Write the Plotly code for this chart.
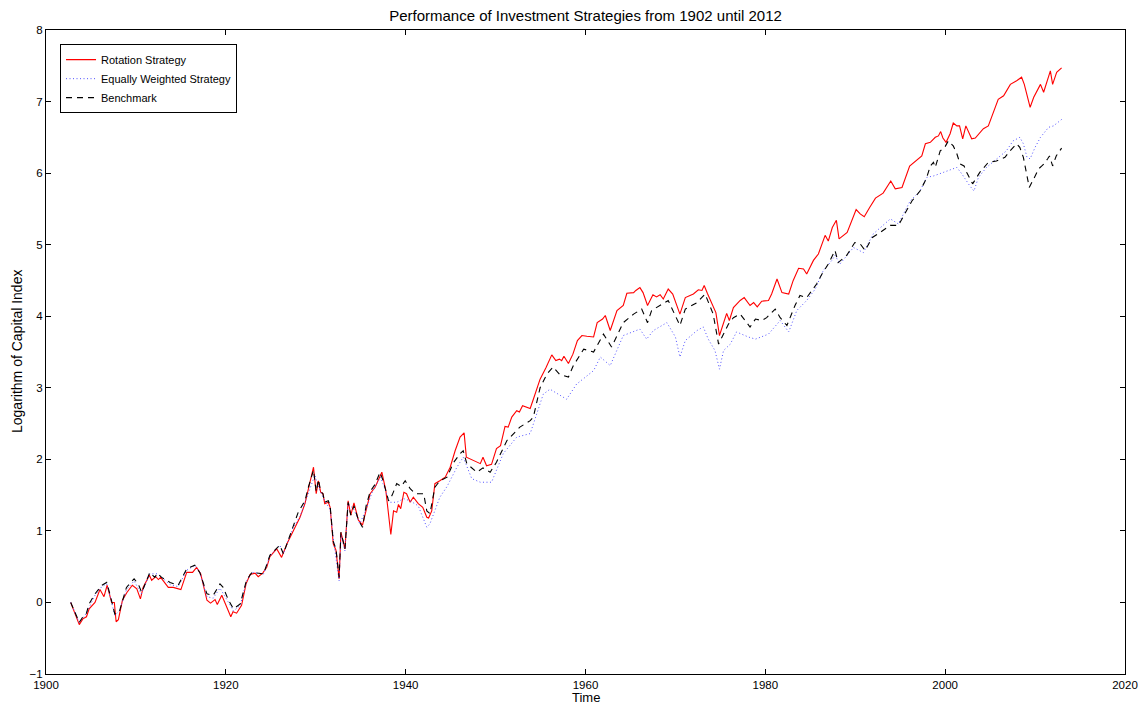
import plotly.graph_objects as go

# ---------------- data ----------------
rot_years = [1902.75, 1903.7, 1904.1, 1904.5, 1904.8, 1905.45, 1906.0, 1906.45, 1906.8, 1907.3, 1907.6, 1907.8,
             1908.05, 1908.5, 1909.0, 1909.6, 1910.1, 1910.5, 1910.8, 1911.5, 1911.75, 1912.2, 1912.5, 1912.75,
             1913.6, 1914.15, 1915.0, 1915.65, 1916.3, 1916.75, 1917.2, 1917.9, 1918.3, 1918.8, 1919.05, 1919.55,
             1920.55, 1920.8, 1921.2, 1921.75, 1922.25, 1922.7, 1923.25, 1923.6, 1924.1, 1924.55, 1924.9, 1925.65,
             1926.2, 1926.8, 1927.7, 1928.25, 1928.8, 1929.2, 1929.75, 1930.05, 1930.3, 1930.55, 1930.8, 1931.0,
             1931.4, 1931.6, 1931.95, 1932.25, 1932.6, 1932.8, 1933.25, 1933.6, 1933.9, 1934.25, 1934.75, 1935.2,
             1935.6, 1936.05, 1936.6, 1937.15, 1937.35, 1937.8, 1938.35, 1938.65, 1939.0, 1939.2, 1939.45, 1939.8,
             1940.1, 1940.5, 1940.85, 1941.4, 1941.9, 1942.35, 1942.55, 1942.9, 1943.25, 1943.8, 1944.4, 1944.95,
             1945.5, 1946.05, 1946.5, 1946.75, 1947.55, 1948.3, 1948.6, 1949.0, 1949.55, 1950.1, 1950.55, 1951.05,
             1951.4, 1951.8, 1952.35, 1952.65, 1953.0, 1953.85, 1954.2, 1954.95, 1955.6, 1956.25, 1956.7, 1957.1,
             1957.35, 1957.6, 1958.1, 1958.6, 1959.1, 1959.6, 1960.15, 1960.9, 1961.3, 1961.9, 1962.2, 1962.75,
             1963.5, 1964.2, 1964.6, 1965.35, 1965.6, 1966.05, 1966.4, 1966.9, 1967.5, 1967.9, 1968.3, 1968.65,
             1969.2, 1969.7, 1970.5, 1971.1, 1972.0, 1972.55, 1972.95, 1973.2, 1973.55, 1974.2, 1974.5, 1974.9,
             1975.3, 1975.7, 1976.0, 1976.45, 1977.2, 1977.65, 1978.3, 1978.7, 1979.1, 1979.6, 1980.35, 1980.7,
             1981.3, 1981.85, 1982.6, 1983.1, 1983.7, 1984.25, 1984.6, 1985.35, 1985.9, 1986.65, 1987.0, 1987.45,
             1987.9, 1988.2, 1989.1, 1990.1, 1990.55, 1991.0, 1991.6, 1992.25, 1993.1, 1993.95, 1994.45, 1995.2,
             1996.05, 1996.7, 1997.4, 1997.8, 1998.35, 1998.9, 1999.25, 1999.5, 1999.75, 2000.1, 2000.55, 2000.9,
             2001.3, 2001.6, 2001.95, 2002.3, 2002.7, 2002.95, 2003.35, 2004.25, 2004.8, 2005.35, 2005.9, 2006.5,
             2007.25, 2007.95, 2008.5, 2008.8, 2009.45, 2009.85, 2010.6, 2010.95, 2011.7, 2011.95, 2012.4, 2012.95]
rot_values = [0.00, -0.31, -0.23, -0.20, -0.09, 0.00, 0.18, 0.08, 0.24, 0.00, 0.00, -0.27,
              -0.24, 0.03, 0.14, 0.24, 0.19, 0.05, 0.21, 0.38, 0.31, 0.36, 0.32, 0.35,
              0.21, 0.21, 0.18, 0.42, 0.42, 0.49, 0.40, 0.03, -0.01, 0.04, -0.03, 0.10,
              -0.20, -0.13, -0.15, -0.04, 0.26, 0.39, 0.41, 0.36, 0.41, 0.49, 0.64, 0.75,
              0.63, 0.82, 1.05, 1.19, 1.38, 1.61, 1.89, 1.52, 1.70, 1.54, 1.52, 1.38,
              1.40, 1.33, 0.82, 0.73, 0.33, 0.98, 0.75, 1.42, 1.22, 1.39, 1.15, 1.08,
              1.28, 1.52, 1.61, 1.77, 1.82, 1.56, 0.95, 1.28, 1.26, 1.37, 1.31, 1.54,
              1.52, 1.40, 1.47, 1.38, 1.33, 1.19, 1.18, 1.28, 1.66, 1.70, 1.75, 1.89,
              2.12, 2.31, 2.37, 2.03, 1.98, 1.94, 2.03, 1.91, 1.93, 2.15, 2.19, 2.46,
              2.45, 2.59, 2.68, 2.66, 2.75, 2.71, 2.84, 3.12, 3.28, 3.46, 3.38, 3.40,
              3.38, 3.44, 3.34, 3.47, 3.66, 3.73, 3.72, 3.71, 3.91, 3.96, 4.01, 3.80,
              4.08, 4.15, 4.32, 4.33, 4.36, 4.40, 4.33, 4.15, 4.30, 4.27, 4.30, 4.24,
              4.38, 4.31, 4.03, 4.26, 4.31, 4.37, 4.36, 4.43, 4.32, 4.15, 4.05, 3.73,
              3.87, 4.04, 3.94, 4.12, 4.22, 4.26, 4.15, 4.19, 4.13, 4.21, 4.22, 4.31,
              4.52, 4.33, 4.31, 4.50, 4.67, 4.66, 4.59, 4.78, 4.87, 5.13, 5.05, 5.24,
              5.34, 5.08, 5.17, 5.49, 5.43, 5.39, 5.52, 5.65, 5.72, 5.89, 5.78, 5.80,
              6.10, 6.17, 6.24, 6.41, 6.43, 6.50, 6.52, 6.58, 6.49, 6.43, 6.55, 6.70,
              6.66, 6.66, 6.48, 6.66, 6.56, 6.48, 6.49, 6.62, 6.66, 6.85, 7.03, 7.08,
              7.24, 7.29, 7.34, 7.24, 6.92, 7.06, 7.24, 7.13, 7.43, 7.24, 7.41, 7.47]

eq_years = [1902.75, 1903.7, 1904.5, 1905.45, 1906.2, 1906.75, 1907.1, 1907.65, 1908.15, 1908.95, 1909.8, 1910.6,
            1911.55, 1912.4, 1913.8, 1914.7, 1915.65, 1916.55, 1917.1, 1917.9, 1918.6, 1919.35, 1920.3, 1920.85,
            1921.6, 1922.3, 1922.9, 1924.2, 1924.9, 1926.0, 1926.4, 1927.5, 1928.25, 1929.2, 1929.9, 1930.2,
            1930.5, 1931.0, 1931.6, 1932.0, 1932.6, 1932.8, 1933.25, 1933.6, 1934.25, 1934.9, 1935.6, 1936.3,
            1937.2, 1937.6, 1938.2, 1939.0, 1939.8, 1940.5, 1941.4, 1942.35, 1942.7, 1943.8, 1944.6, 1945.7,
            1946.4, 1947.35, 1948.3, 1949.55, 1950.85, 1952.35, 1953.85, 1955.3, 1956.05, 1957.9, 1959.0, 1960.9,
            1961.65, 1962.75, 1964.2, 1966.05, 1966.8, 1967.55, 1969.05, 1970.0, 1970.5, 1971.1, 1972.4, 1973.1,
            1973.65, 1974.4, 1974.9, 1975.35, 1976.1, 1976.8, 1978.1, 1978.9, 1980.35, 1981.65, 1982.6, 1983.5,
            1984.6, 1985.55, 1986.45, 1987.4, 1987.75, 1988.3, 1989.8, 1990.9, 1992.0, 1993.9, 1994.8, 1996.1,
            1997.2, 1997.95, 1998.7, 1999.8, 2000.9, 2001.3, 2001.85, 2002.2, 2002.75, 2003.2, 2003.7, 2004.6,
            2005.7, 2006.8, 2007.55, 2008.3, 2008.7, 2009.1, 2009.45, 2010.0, 2010.6, 2011.5, 2012.05, 2012.95]
eq_values = [0.00, -0.28, -0.15, 0.10, 0.22, 0.26, 0.10, -0.18, -0.12, 0.18, 0.30, 0.12,
             0.40, 0.40, 0.25, 0.22, 0.45, 0.52, 0.42, 0.08, 0.06, 0.20, 0.00, -0.12,
             -0.04, 0.30, 0.42, 0.40, 0.65, 0.80, 0.68, 1.05, 1.20, 1.55, 1.78, 1.65,
             1.55, 1.42, 1.30, 0.85, 0.30, 0.95, 0.72, 1.38, 1.30, 1.10, 1.30, 1.55,
             1.75, 1.62, 1.40, 1.40, 1.45, 1.42, 1.35, 1.05, 1.10, 1.47, 1.62, 1.89,
             2.03, 1.73, 1.68, 1.68, 2.08, 2.31, 2.36, 2.91, 2.98, 2.84, 3.05, 3.24,
             3.43, 3.31, 3.73, 3.82, 3.68, 3.80, 3.91, 3.71, 3.43, 3.66, 3.80, 3.85,
             3.68, 3.52, 3.26, 3.52, 3.61, 3.78, 3.71, 3.68, 3.75, 3.94, 3.78, 4.08,
             4.22, 4.38, 4.64, 4.78, 4.85, 4.73, 4.96, 4.89, 5.15, 5.36, 5.29, 5.61,
             5.75, 5.94, 5.96, 6.01, 6.06, 6.08, 5.99, 5.92, 5.82, 5.75, 5.94, 6.08,
             6.20, 6.31, 6.45, 6.50, 6.41, 6.22, 6.20, 6.36, 6.50, 6.64, 6.66, 6.75]

bm_years = [1902.75, 1903.7, 1904.1, 1904.5, 1904.8, 1905.45, 1906.2, 1906.75, 1907.1, 1907.65, 1908.15, 1908.95,
            1909.8, 1910.25, 1910.65, 1911.0, 1911.55, 1912.1, 1912.4, 1912.85, 1913.8, 1914.7, 1915.65, 1916.55,
            1917.1, 1917.9, 1918.6, 1919.35, 1919.7, 1920.3, 1920.85, 1921.6, 1922.3, 1922.9, 1924.2, 1924.9,
            1926.0, 1926.4, 1927.5, 1928.05, 1928.8, 1929.2, 1929.75, 1930.05, 1930.3, 1930.55, 1930.8, 1931.0,
            1931.4, 1931.6, 1931.95, 1932.25, 1932.6, 1932.8, 1933.25, 1933.6, 1933.9, 1934.25, 1934.75, 1935.2,
            1935.6, 1936.05, 1936.6, 1937.15, 1937.5, 1938.1, 1938.5, 1939.0, 1939.5, 1939.95, 1940.5, 1941.05,
            1942.0, 1942.35, 1942.7, 1943.25, 1943.8, 1944.6, 1945.3, 1946.05, 1946.4, 1946.8, 1947.9, 1948.6,
            1949.4, 1950.1, 1951.25, 1952.7, 1953.85, 1954.2, 1954.95, 1955.7, 1956.4, 1957.1, 1958.1, 1958.65,
            1959.8, 1960.5, 1960.9, 1962.0, 1962.9, 1964.2, 1965.35, 1966.25, 1966.9, 1967.35, 1968.3, 1969.2,
            1970.5, 1971.1, 1972.4, 1973.3, 1974.2, 1974.8, 1975.35, 1975.9, 1976.45, 1977.2, 1978.3, 1978.9,
            1979.6, 1980.15, 1981.1, 1981.65, 1982.4, 1983.3, 1983.85, 1984.6, 1985.7, 1986.3, 1987.0, 1987.75,
            1988.1, 1989.05, 1989.95, 1990.55, 1991.1, 1991.9, 1992.75, 1993.9, 1994.8, 1995.55, 1996.3, 1997.2,
            1997.9, 1998.35, 1998.7, 1998.9, 1999.45, 1999.95, 2000.35, 2000.9, 2001.3, 2001.65, 2002.1, 2002.4,
            2003.05, 2003.5, 2003.85, 2004.8, 2005.7, 2006.65, 2007.2, 2007.95, 2008.3, 2008.7, 2009.0, 2009.35,
            2009.85, 2010.4, 2010.75, 2011.0, 2011.4, 2011.6, 2011.95, 2012.35, 2012.95]
bm_values = [0.00, -0.28, -0.20, -0.15, -0.02, 0.12, 0.24, 0.28, 0.12, -0.16, -0.13, 0.21,
             0.33, 0.26, 0.14, 0.26, 0.42, 0.35, 0.41, 0.35, 0.28, 0.24, 0.47, 0.52,
             0.42, 0.12, 0.10, 0.26, 0.21, 0.03, -0.09, -0.02, 0.31, 0.42, 0.40, 0.66,
             0.80, 0.68, 1.05, 1.26, 1.42, 1.62, 1.85, 1.55, 1.72, 1.55, 1.52, 1.40,
             1.42, 1.35, 0.85, 0.75, 0.35, 0.98, 0.75, 1.40, 1.22, 1.35, 1.15, 1.05,
             1.35, 1.55, 1.65, 1.82, 1.70, 1.42, 1.50, 1.66, 1.62, 1.70, 1.59, 1.52,
             1.52, 1.28, 1.24, 1.61, 1.70, 1.75, 1.95, 2.08, 2.12, 1.94, 1.82, 1.88,
             1.82, 1.96, 2.26, 2.45, 2.54, 2.59, 3.00, 3.19, 3.29, 3.19, 3.15, 3.31,
             3.54, 3.52, 3.50, 3.75, 3.57, 3.91, 4.03, 4.10, 3.91, 4.08, 4.15, 4.22,
             3.87, 4.10, 4.19, 4.31, 4.03, 3.61, 3.75, 3.89, 3.98, 4.03, 3.85, 3.96,
             3.94, 3.98, 4.10, 3.98, 3.87, 4.15, 4.29, 4.26, 4.45, 4.59, 4.73, 4.92,
             4.75, 4.85, 5.03, 5.01, 4.92, 5.10, 5.17, 5.27, 5.27, 5.43, 5.61, 5.75,
             5.92, 6.10, 6.15, 6.08, 6.31, 6.36, 6.45, 6.38, 6.27, 6.13, 6.10, 6.01,
             5.85, 5.94, 6.01, 6.15, 6.17, 6.22, 6.31, 6.41, 6.36, 6.22, 6.03, 5.80,
             5.92, 6.06, 6.10, 6.13, 6.20, 6.24, 6.10, 6.24, 6.35]

series_names = ["Rotation Strategy", "Equally Weighted Strategy", "Benchmark"]
title_text = "Performance of Investment Strategies from 1902 until 2012"
x_label = "Time"
y_label = "Logarithm of Capital Index"

# ---------------- figure ----------------
FONT = "Liberation Sans, Arial, Helvetica, sans-serif"
FIG_W, FIG_H = 1138, 705

fig = go.Figure()
fig.add_trace(go.Scatter(x=rot_years, y=rot_values, mode="lines", name=series_names[0],
                         line=dict(color="#ff0000", width=1.1)))
fig.add_trace(go.Scatter(x=eq_years, y=eq_values, mode="lines", name=series_names[1],
                         line=dict(color="#5050ff", width=1, dash="1px,2.5px")))
fig.add_trace(go.Scatter(x=bm_years, y=bm_values, mode="lines", name=series_names[2],
                         line=dict(color="#000000", width=1.1, dash="6px,5px")))

axis_common = dict(showgrid=False, zeroline=False, showline=True, linecolor="black", linewidth=1,
                   ticks="inside", ticklen=5, tickcolor="black", tickwidth=1, mirror="ticks",
                   ticklabeloverflow="allow",
                   tickfont=dict(family=FONT, size=11.5, color="black"))

fig.update_layout(
    width=FIG_W, height=FIG_H,
    margin=dict(l=46, r=13, t=30, b=31),
    paper_bgcolor="white", plot_bgcolor="white",
    font=dict(family=FONT, size=11, color="black"),
    title=dict(text=title_text, xref="paper", x=0.5, xanchor="center",
               y=1 - 15.5 / FIG_H, yanchor="middle", yref="container",
               font=dict(family=FONT, size=15, color="black")),
    xaxis=dict(range=[1900, 2020], dtick=20, tick0=1900, automargin=False, **axis_common),
    yaxis=dict(range=[-1, 8], dtick=1, tick0=0, automargin=False, **axis_common),
    showlegend=True,
    legend=dict(x=0.013, y=0.978, xanchor="left", yanchor="top", bgcolor="white",
                bordercolor="black", borderwidth=1, font=dict(family=FONT, size=11, color="black"),
                tracegroupgap=0, itemwidth=30),
    annotations=[
        dict(text=x_label, xref="paper", yref="paper", x=0.5, y=-23 / 644, xanchor="center",
             yanchor="middle", showarrow=False, font=dict(family=FONT, size=13, color="black")),
        dict(text=y_label, xref="paper", yref="paper", x=-29 / 1079, y=0.5, xanchor="center",
             yanchor="middle", textangle=-90, showarrow=False,
             font=dict(family=FONT, size=14, color="black")),
    ],
)

fig.write_html(
    "out.html",
    config={"displayModeBar": False},
    post_script="document.body.style.margin='0';document.body.style.padding='0';"
                "document.documentElement.style.overflow='hidden';document.body.style.overflow='hidden';",
)
